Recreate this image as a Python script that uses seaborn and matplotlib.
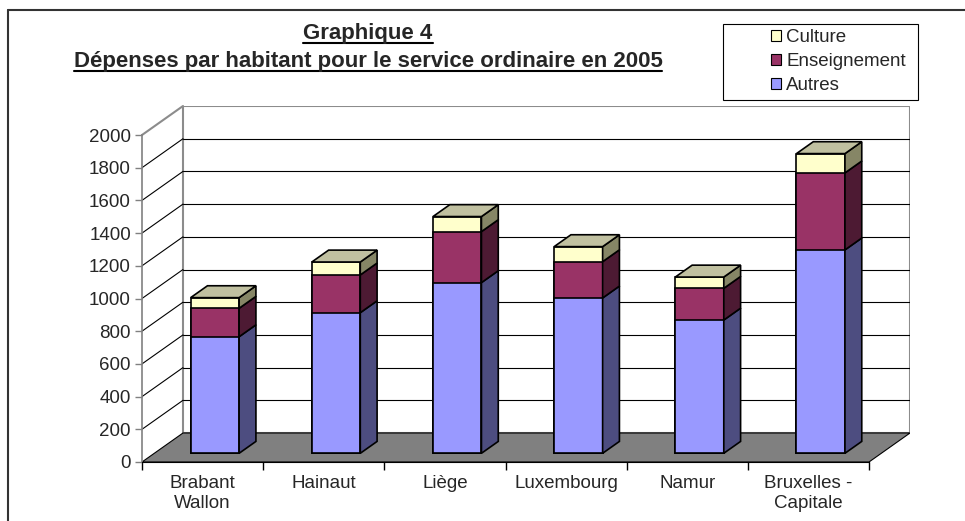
import matplotlib
matplotlib.use("Agg")
import matplotlib.pyplot as plt
import matplotlib.transforms as mtransforms
import numpy as np
import pandas as pd
import seaborn as sns
from matplotlib.lines import Line2D
from matplotlib.patches import Patch, Polygon, Rectangle

# --- data (EUR per inhabitant, 2005) ---
regions = ["Brabant\nWallon", "Hainaut", "Liège", "Luxembourg", "Namur", "Bruxelles -\nCapitale"]
autres = [713, 860, 1044, 950, 815, 1244]
enseignement = [174, 231, 312, 222, 194, 471]
culture = [65, 79, 92, 92, 69, 118]
y_ticks = list(range(0, 2001, 200))
series_names = ["Culture", "Enseignement", "Autres"]

# Excel-like palette: front / side / top
colors = {
    "Autres": ("#9999FF", "#4D4D80", "#7A7ACC"),
    "Enseignement": ("#993366", "#4D1A33", "#7A2952"),
    "Culture": ("#FFFFCC", "#868666", "#C0C0A0"),
}

sns.set_style("white")
plt.rcParams["font.family"] = ["Liberation Sans", "DejaVu Sans"]
FS = 13.5

W, H = 965, 521
fig = plt.figure(figsize=(W / 100, H / 100), dpi=100)

# pixel geometry of the pseudo-3D box
x_front_l, x_front_r, x_back_r = 142, 869, 910
y_zero, y_top_front, y_top_back = 462, 135, 106
ax = fig.add_axes([x_front_l / W, (H - y_zero) / H,
                   (x_back_r - x_front_l) / W, (y_zero - y_top_back) / H])

n = len(regions)
px_per_cat = (x_front_r - x_front_l) / n
px_per_val = (y_zero - y_top_front) / 2000
DX = 41 / px_per_cat           # full depth in category units
DY = 29 / px_per_val           # full depth in value units
F0, BD = 0.30, 0.41            # bar front depth, bar thickness (fractions of depth)
BW = 0.40

# floor, back wall, left wall
ax.add_patch(Polygon([(-0.5, 0), (n - 0.5, 0), (n - 0.5 + DX, DY), (-0.5 + DX, DY)],
                     facecolor="#808080", edgecolor="black", lw=0.8, zorder=0.2))
ax.add_patch(Rectangle((-0.5 + DX, DY), n, 2000, facecolor="white",
                       edgecolor="#8C8C8C", lw=1.5, zorder=0.1))
for v in y_ticks[1:-1]:
    ax.plot([-0.5 + DX, n - 0.5 + DX], [v + DY, v + DY], color="black", lw=0.8, zorder=0.3)
    ax.plot([-0.5, -0.5 + DX], [v, v + DY], color="black", lw=0.8, zorder=0.3)
ax.plot([-0.5, -0.5 + DX], [2000, 2000 + DY], color="#8C8C8C", lw=1.5, zorder=0.3, clip_on=False)

# stacked front faces: overlay cumulative totals
df = pd.DataFrame({"region": regions, "autres": autres,
                   "enseignement": enseignement, "culture": culture})
df["mid"] = df["autres"] + df["enseignement"]
df["total"] = df["mid"] + df["culture"]

shift = mtransforms.Affine2D().translate(F0 * DX, F0 * DY) + ax.transData
for col, name in [("total", "Culture"), ("mid", "Enseignement"), ("autres", "Autres")]:
    before = len(ax.patches)
    sns.barplot(data=df, x="region", y=col, color=colors[name][0], saturation=1,
                width=BW, edgecolor="black", linewidth=1.2, ax=ax, zorder=2)
    for p in ax.patches[before:]:
        p.set_transform(shift)

# side and top faces
ox, oy = F0 * DX, F0 * DY
dx, dy = BD * DX, BD * DY
for i, row in df.iterrows():
    xl, xr = i - BW / 2 + ox, i + BW / 2 + ox
    segs = [(0, row["autres"], "Autres"), (row["autres"], row["mid"], "Enseignement"),
            (row["mid"], row["total"], "Culture")]
    for y0, y1, name in segs:
        ax.add_patch(Polygon([(xr, y0 + oy), (xr, y1 + oy), (xr + dx, y1 + oy + dy), (xr + dx, y0 + oy + dy)],
                             facecolor=colors[name][1], edgecolor="black", lw=1.2, zorder=2))
    t = row["total"] + oy
    ax.add_patch(Polygon([(xl, t), (xr, t), (xr + dx, t + dy), (xl + dx, t + dy)],
                         facecolor=colors["Culture"][2], edgecolor="black", lw=1.2, zorder=2))

# barplot resets the limits, so set them afterwards
ax.set_xlim(-0.5, n - 0.5 + DX)
ax.set_ylim(0, 2000 + DY)

# axes
for s in ["top", "right"]:
    ax.spines[s].set_visible(False)
ax.spines["left"].set_bounds(0, 2000)
ax.spines["left"].set_color("#808080")
ax.spines["left"].set_linewidth(1.2)
ax.spines["bottom"].set_bounds(-0.5, n - 0.5)
ax.spines["bottom"].set_color("black")
ax.spines["bottom"].set_linewidth(0.8)
ax.set_yticks(y_ticks)
ax.set_yticklabels([str(v) for v in y_ticks], fontsize=FS)
ax.tick_params(axis="y", length=5, width=1, color="#808080", pad=3, left=True)
ax.set_xticks(np.arange(-0.5, n, 1))
ax.set_xticklabels([])
ax.set_xticks(range(n), minor=True)
ax.set_xticklabels(regions, minor=True, fontsize=FS, linespacing=1.3)
ax.tick_params(axis="x", which="major", length=6, width=1, color="black", bottom=True)
ax.tick_params(axis="x", which="minor", length=0, pad=9)
ax.set_xlabel("")
ax.set_ylabel("")
ax.grid(False)

# titles (underlined)
t1 = fig.text(368 / W, 1 - 33 / H, "Graphique 4", ha="center", va="center",
              fontsize=16, fontweight="bold")
t2 = fig.text(368 / W, 1 - 61 / H, "Dépenses par habitant pour le service ordinaire en 2005",
              ha="center", va="center", fontsize=16, fontweight="bold")
fig.canvas.draw()
r = fig.canvas.get_renderer()
for t in (t1, t2):
    bb = t.get_window_extent(r)
    fig.add_artist(Line2D([bb.x0, bb.x1], [bb.y0 + 1, bb.y0 + 1], transform=None,
                          color="black", lw=1.5))

# legend box
fig.add_artist(Rectangle((723 / W, 1 - 100 / H), 195 / W, 76 / H, transform=fig.transFigure,
                         facecolor="white", edgecolor="black", lw=0.8))
handles = [Patch(facecolor=colors[s][0], edgecolor="black", lw=0.8) for s in series_names]
fig.legend(handles, series_names, loc="upper left", bbox_to_anchor=(771 / W, 1 - 29 / H),
           frameon=False, fontsize=FS, handlelength=0.55, handleheight=0.55,
           handletextpad=0.25, labelspacing=0.38, borderpad=0, borderaxespad=0)

# chart-area frame (top and left edges visible)
fig.add_artist(Line2D([8 / W, 1], [1 - 10 / H, 1 - 10 / H], transform=fig.transFigure,
                      color="#333333", lw=1.5))
fig.add_artist(Line2D([8 / W, 8 / W], [0, 1 - 10 / H], transform=fig.transFigure,
                      color="#333333", lw=1.5))

fig.savefig("out.png", dpi=100)
